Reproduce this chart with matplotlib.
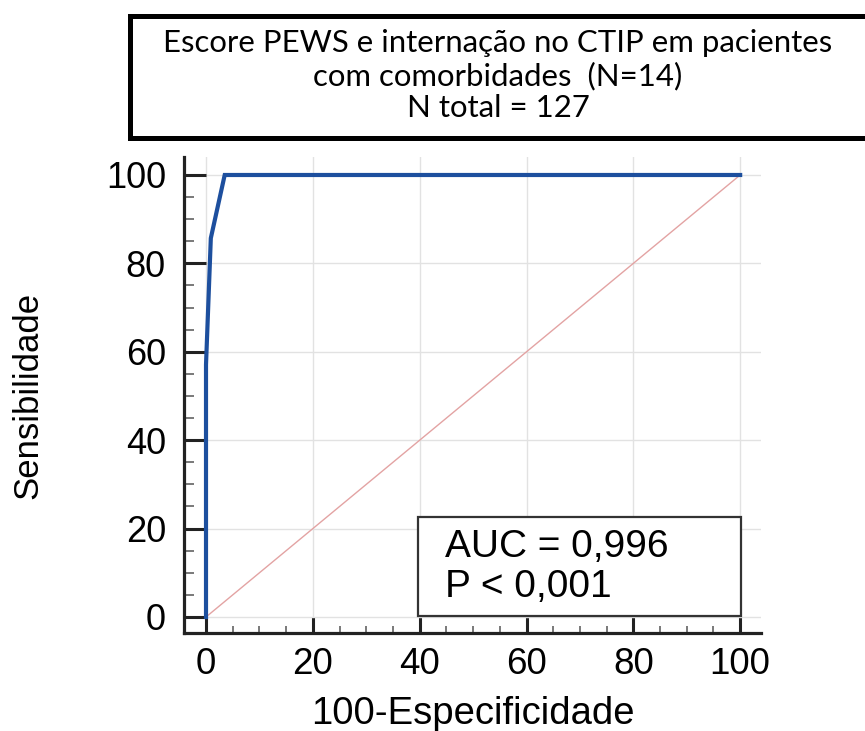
import matplotlib

matplotlib.use("Agg")
import matplotlib.pyplot as plt
from matplotlib.patches import Rectangle
from matplotlib.ticker import MultipleLocator

# ROC curve (100-specificity vs sensitivity, in %)
fpr = [0.0, 0.0, 0.9, 3.5, 100.0]
tpr = [0.0, 57.1, 85.7, 100.0, 100.0]
ref_line = [0.0, 100.0]

tick_values = [0, 20, 40, 60, 80, 100]
title_lines = [
    "Escore PEWS e internação no CTIP em pacientes",
    "com comorbidades  (N=14)",
    "N total = 127",
]
stats_lines = ["AUC = 0,996", "P < 0,001"]

W, H = 865, 731
fig = plt.figure(figsize=(W / 100, H / 100), dpi=100)
fig.patch.set_facecolor("white")

# axes box in pixels: left spine x=184, right edge 761, top 157, bottom spine 633
ax = fig.add_axes([184 / W, 1 - 633 / H, 577 / W, 476 / H])
ax.set_xlim(-4.12, 103.9)
ax.set_ylim(-3.62, 104.07)

ax.plot(ref_line, ref_line, color="#e3a3a3", lw=1.0, zorder=2)
ax.plot(fpr, tpr, color="#1d4f9e", lw=3.0, solid_joinstyle="miter", zorder=3)

for side in ("top", "right"):
    ax.spines[side].set_visible(False)
for side in ("left", "bottom"):
    ax.spines[side].set_linewidth(2.3)
    ax.spines[side].set_color("#222222")

ax.set_xticks(tick_values)
ax.set_yticks(tick_values)
ax.xaxis.set_minor_locator(MultipleLocator(5))
ax.yaxis.set_minor_locator(MultipleLocator(5))
ax.grid(True, which="major", color="#e2e2e2", lw=1.0, zorder=0)

font = "Liberation Sans"
ax.tick_params(axis="y", which="major", direction="in", length=15.8, width=2.2,
               color="#222222", pad=13, labelsize=26)
ax.tick_params(axis="x", which="major", direction="in", length=11.5, width=2.2,
               color="#222222", pad=10, labelsize=26.5)
ax.tick_params(axis="y", which="minor", direction="in", length=7.2, width=1.1,
               color="#555555")
ax.tick_params(axis="x", which="minor", direction="in", length=5.0, width=1.1,
               color="#555555")
for lab in ax.get_xticklabels() + ax.get_yticklabels():
    lab.set_fontfamily(font)

ax.set_xlabel("100-Especificidade", fontsize=27.5, family=font, labelpad=10)
ax.set_ylabel("Sensibilidade", fontsize=25, family=font, labelpad=44)

# AUC / P box
ax.add_patch(Rectangle((0.4055, 0.0357), 0.5595, 0.208, transform=ax.transAxes,
                       fill=True, facecolor="white", edgecolor="#333333",
                       lw=1.6, zorder=4))
for line, yb in zip(stats_lines, [0.1597, 0.0756]):
    ax.text(0.452, yb, line, transform=ax.transAxes, ha="left", va="baseline",
            fontsize=28, family=font, zorder=5)

# title box on top, running off the right edge
fig.add_artist(Rectangle((129.5 / W, 1 - 137.5 / H), 0.9, 121 / H,
                         transform=fig.transFigure, facecolor="white",
                         edgecolor="black", lw=3.6, clip_on=False))
for line, yb in zip(title_lines, [52, 85, 117]):
    fig.text(498 / W, 1 - yb / H, line, ha="center", va="baseline",
             fontsize=22.4, family="Lato")

fig.savefig("out.png", dpi=100, facecolor="white")
